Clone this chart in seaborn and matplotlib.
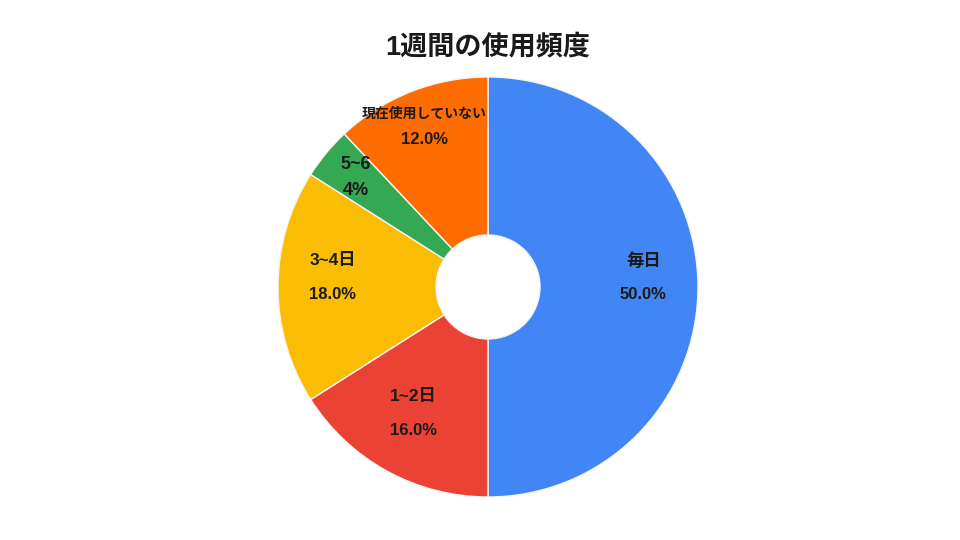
import numpy as np
import matplotlib
matplotlib.use("Agg")
import matplotlib.pyplot as plt
import seaborn as sns

sns.set_theme(style="white")
plt.rcParams['font.family'] = ['Liberation Sans', 'Noto Sans CJK JP', 'DejaVu Sans']

title = "1週間の使用頻度"
categories = ["毎日", "1~2日", "3~4日", "5~6", "現在使用していない"]
values = [50.0, 16.0, 18.0, 4.0, 12.0]
pct_labels = ["50.0%", "16.0%", "18.0%", "4%", "12.0%"]
colors = ["#4285F4", "#EA4335", "#FBBC04", "#34A853", "#FF6D01"]

fig = plt.figure(figsize=(9.6, 5.4), dpi=100)
cx, cy, R = 488, 287, 210
ax = fig.add_axes([(cx - R) / 960, (540 - cy - R) / 540, 2 * R / 960, 2 * R / 540])
ax.pie(values, colors=colors, startangle=90, counterclock=False, radius=1.0,
       wedgeprops=dict(width=1 - 52 / R, edgecolor="#f4f4f4", linewidth=1.0))
ax.set_xlim(-1, 1)
ax.set_ylim(-1, 1)
ax.set_aspect("equal")
ax.axis("off")

total = sum(values)
start = 90.0
for i, (cat, v, p) in enumerate(zip(categories, values, pct_labels)):
    ang = start - v / total * 360 / 2
    start -= v / total * 360
    frac = v / total
    big = frac >= 0.15
    r = 0.74 if big else 0.82
    x = r * np.cos(np.radians(ang))
    y = r * np.sin(np.radians(ang)) + (0.045 if big else 0.0)
    gap = 0.08 if big else 0.062
    if len(cat) > 4:
        lab_size, pct_size = 10, 12
    elif big:
        lab_size, pct_size = 12.5, 12
    else:
        lab_size, pct_size = 13, 13
    ax.text(x, y + gap, cat, ha="center", va="center", fontsize=lab_size,
            fontweight="bold", color="#1a1a1a")
    ax.text(x, y - gap, p, ha="center", va="center", fontsize=pct_size,
            fontweight="bold", color="#1a1a1a")

fig.text(488 / 960, 1 - 47 / 540, title, ha="center", va="center",
         fontsize=19.5, fontweight="bold", color="#1a1a1a")

fig.savefig("out.png", dpi=100, facecolor="white")
